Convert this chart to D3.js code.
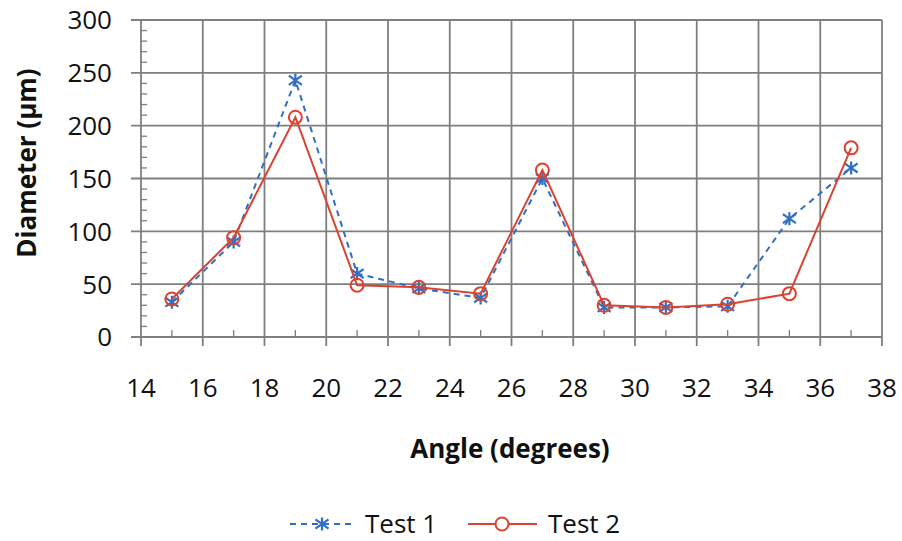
<!DOCTYPE html>
<html>
<head>
<meta charset="utf-8">
<script src="https://cdn.jsdelivr.net/npm/d3@7"></script>
<style>
  body { margin: 0; background: #fff; }
  text { font-family: "Open Sans", Lato, sans-serif; fill: #111; }
</style>
</head>
<body>
<div id="chart"></div>
<script>
const angles = [15, 17, 19, 21, 23, 25, 27, 29, 31, 33, 35, 37];
const test1 = [33, 90, 243, 60, 46, 37, 150, 28, 28, 29, 112, 160];
const test2 = [36, 94, 208, 49, 47, 41, 158, 30, 28, 31, 41, 179];
const xTicks = d3.range(14, 39, 2);
const yTicks = d3.range(0, 301, 50);

(() => {
    const W = 902, H = 541;
    const m = { left: 141, right: 882, top: 20, bottom: 337 };
    const blue = "#2f6fc4", red = "#d9432f", grid = "#7f7f7f";

    const svg = d3.select("#chart").append("svg").attr("width", W).attr("height", H);

    const x = d3.scaleLinear().domain([14, 38]).range([m.left, m.right]);
    const y = d3.scaleLinear().domain([0, 300]).range([m.bottom, m.top]);

    // grid
    svg.append("g").selectAll("line").data(xTicks).join("line")
        .attr("x1", d => x(d)).attr("x2", d => x(d))
        .attr("y1", m.top).attr("y2", m.bottom + 9)
        .attr("stroke", grid).attr("stroke-width", 1.8);
    svg.append("g").selectAll("line").data(yTicks).join("line")
        .attr("x1", m.left - 10).attr("x2", m.right)
        .attr("y1", d => y(d)).attr("y2", d => y(d))
        .attr("stroke", grid).attr("stroke-width", 1.8);

    // minor ticks
    svg.append("g").selectAll("line").data(d3.range(10, 300, 10).filter(v => v % 50)).join("line")
        .attr("x1", m.left).attr("x2", m.left + 6)
        .attr("y1", d => y(d)).attr("y2", d => y(d))
        .attr("stroke", grid).attr("stroke-width", 1.3);
    svg.append("g").selectAll("line").data(d3.range(15, 38, 2)).join("line")
        .attr("x1", d => x(d)).attr("x2", d => x(d))
        .attr("y1", m.bottom).attr("y2", m.bottom - 7)
        .attr("stroke", grid).attr("stroke-width", 1.3);

    // tick labels
    svg.append("g").selectAll("text").data(yTicks).join("text")
        .attr("x", 112).attr("y", d => y(d)).attr("dy", "0.36em")
        .attr("text-anchor", "end").style("font-size", "26px").text(d => d);
    svg.append("g").selectAll("text").data(xTicks).join("text")
        .attr("x", d => x(d)).attr("y", 388).attr("dy", "0.36em")
        .attr("text-anchor", "middle").style("font-size", "26px").text(d => d);

    // axis titles
    svg.append("text").attr("x", 510).attr("y", 449).attr("dy", "0.36em")
        .attr("text-anchor", "middle").style("font-size", "26px").style("font-weight", "bold")
        .text("Angle (degrees)");
    svg.append("text").attr("transform", "translate(27,163) rotate(-90)").attr("dy", "0.36em")
        .attr("text-anchor", "middle").style("font-size", "26px").style("font-weight", "bold")
        .text("Diameter (µm)");

    const line = d3.line().x(d => x(d[0])).y(d => y(d[1]));
    const s1 = angles.map((a, i) => [a, test1[i]]);
    const s2 = angles.map((a, i) => [a, test2[i]]);

    const cross = (g, cx, cy) => {
        const r = 6.5;
        g.append("path")
            .attr("d", `M${cx - r},${cy - r * 0.7}L${cx + r},${cy + r * 0.7}M${cx - r},${cy + r * 0.7}L${cx + r},${cy - r * 0.7}M${cx},${cy - r}L${cx},${cy + r}`)
            .attr("stroke", blue).attr("stroke-width", 2.2).attr("fill", "none");
    };

    // Test 1
    svg.append("path").datum(s1).attr("d", line)
        .attr("fill", "none").attr("stroke", blue).attr("stroke-width", 2).attr("stroke-dasharray", "6,5");
    const g1 = svg.append("g");
    s1.forEach(d => cross(g1, x(d[0]), y(d[1])));

    // Test 2
    svg.append("path").datum(s2).attr("d", line)
        .attr("fill", "none").attr("stroke", red).attr("stroke-width", 2);
    svg.append("g").selectAll("circle").data(s2).join("circle")
        .attr("cx", d => x(d[0])).attr("cy", d => y(d[1])).attr("r", 6.5)
        .attr("fill", "none").attr("stroke", red).attr("stroke-width", 2);

    // legend
    const ly = 524;
    const lg = svg.append("g");
    lg.append("line").attr("x1", 290).attr("x2", 353).attr("y1", ly).attr("y2", ly)
        .attr("stroke", blue).attr("stroke-width", 2).attr("stroke-dasharray", "6,5");
    cross(lg, 322, ly);
    lg.append("text").attr("x", 365).attr("y", ly).attr("dy", "0.36em").style("font-size", "26px").text("Test 1");
    lg.append("line").attr("x1", 468).attr("x2", 537).attr("y1", ly).attr("y2", ly)
        .attr("stroke", red).attr("stroke-width", 2);
    lg.append("circle").attr("cx", 502).attr("cy", ly).attr("r", 6.5)
        .attr("fill", "#fff").attr("stroke", red).attr("stroke-width", 2);
    lg.append("text").attr("x", 548).attr("y", ly).attr("dy", "0.36em").style("font-size", "26px").text("Test 2");
})();
</script>
</body>
</html>
